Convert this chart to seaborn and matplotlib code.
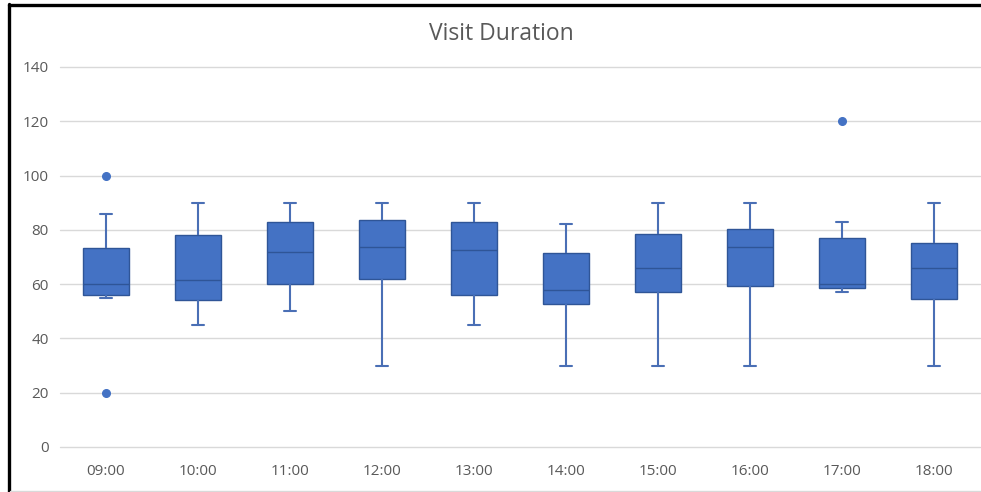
import matplotlib
matplotlib.use("Agg")
import matplotlib.pyplot as plt
from matplotlib.lines import Line2D
import seaborn as sns
import pandas as pd

# ---- data (box-plot statistics per hour) ----
times = ["09:00", "10:00", "11:00", "12:00", "13:00",
         "14:00", "15:00", "16:00", "17:00", "18:00"]
whisker_low = [55, 45, 50, 30, 45, 30, 30, 30, 57, 30]
q1 = [56, 54, 60, 62, 56, 52.8, 57, 59.2, 58.7, 54.5]
median = [60, 61.5, 72, 73.6, 72.6, 58, 66, 73.7, 59.9, 66]
q3 = [73.3, 78.2, 83, 83.8, 83, 71.5, 78.3, 80.5, 77.1, 75]
whisker_high = [86, 90, 90, 90, 90, 82, 90, 90, 83, 90]
outliers_low = [[20], [], [], [], [], [], [], [], [], []]
outliers_high = [[100], [], [], [], [], [], [], [], [120], []]
y_ticks = [0, 20, 40, 60, 80, 100, 120, 140]

# Build a 9-value sample per hour whose linear-interpolated quartiles
# reproduce the statistics above exactly (used by seaborn's boxplot).
rows = []
for i, t in enumerate(times):
    low = sorted(outliers_low[i]) + [whisker_low[i]]
    while len(low) < 2:
        low.append(q1[i])
    high = [whisker_high[i]] + sorted(outliers_high[i])
    while len(high) < 2:
        high.insert(0, q3[i])
    vals = low + [q1[i], median[i], median[i], median[i], q3[i]] + high
    for v in vals:
        rows.append({"time": t, "minutes": v})
df = pd.DataFrame(rows)

sns.set_theme(style="white")
plt.rcParams["font.family"] = ["Open Sans", "DejaVu Sans"]

W, H = 981, 492
fig = plt.figure(figsize=(W / 100, H / 100), dpi=100)
ax = fig.add_axes([60 / W, 1 - 447 / H, 920 / W, 380 / H])

fill = "#4472C4"
edge = "#2F5597"
line = "#4A6FB5"

sns.boxplot(
    data=df, x="time", y="minutes", order=times, ax=ax,
    color=fill, saturation=1, width=0.51, linewidth=1.0,
    capwidths=0.14,
    boxprops=dict(facecolor=fill, edgecolor=edge, linewidth=1.0),
    medianprops=dict(color=edge, linewidth=1.0),
    whiskerprops=dict(color=line, linewidth=1.5),
    capprops=dict(color=line, linewidth=1.5),
    flierprops=dict(marker="o", markersize=5.5, markerfacecolor=fill,
                    markeredgecolor=fill),
    zorder=3,
)

ax.set_ylim(0, 140)
ax.set_xlim(-0.5, len(times) - 0.5)
ax.set_yticks(y_ticks)
ax.set_yticklabels([str(v) for v in y_ticks])
ax.yaxis.grid(True, color="#D9D9D9", linewidth=1.0)
ax.xaxis.grid(False)
ax.set_axisbelow(True)
for gl in ax.get_ygridlines():
    gl.set_clip_on(False)
for s in ax.spines.values():
    s.set_visible(False)
ax.set_xlabel("")
ax.set_ylabel("")
ax.tick_params(axis="both", length=0, labelsize=11, labelcolor="#595959")
ax.tick_params(axis="y", pad=8)
ax.tick_params(axis="x", pad=12)

fig.text(501 / W, 1 - 34 / H, "Visit Duration", ha="center", va="center",
         fontsize=16.5, color="#595959")

# outer chart frame (left and top black, bottom light grey)
fig.add_artist(Line2D([8.5 / W, 8.5 / W], [0, 1 - 4 / H], color="black",
                      linewidth=2.4, transform=fig.transFigure))
fig.add_artist(Line2D([8.5 / W, 1], [1 - 4.5 / H, 1 - 4.5 / H], color="black",
                      linewidth=2.4, transform=fig.transFigure))
fig.add_artist(Line2D([10 / W, 1], [1 - 490.5 / H, 1 - 490.5 / H],
                      color="#D9D9D9", linewidth=1.0, transform=fig.transFigure))

fig.savefig("out.png", dpi=100, facecolor="white")
